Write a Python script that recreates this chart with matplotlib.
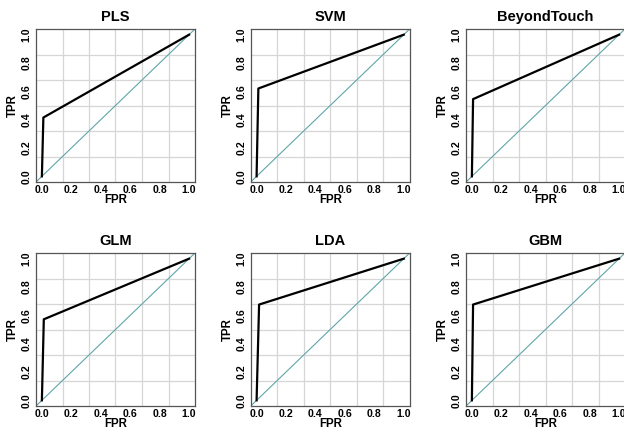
import matplotlib.pyplot as plt
import numpy as np

plt.rcParams['font.family'] = ['Liberation Sans', 'DejaVu Sans']
plt.rcParams['font.weight'] = 'bold'

# ROC curves: (0,0) -> knee -> (1,1)
models = ["PLS", "SVM", "BeyondTouch", "GLM", "LDA", "GBM"]
fpr = [[0.0, 0.01, 1.0],
       [0.0, 0.012, 1.0],
       [0.0, 0.008, 1.0],
       [0.0, 0.013, 1.0],
       [0.0, 0.017, 1.0],
       [0.0, 0.008, 1.0]]
tpr = [[0.0, 0.415, 1.0],
       [0.0, 0.62, 1.0],
       [0.0, 0.545, 1.0],
       [0.0, 0.572, 1.0],
       [0.0, 0.676, 1.0],
       [0.0, 0.676, 1.0]]
ticks = [0.0, 0.2, 0.4, 0.6, 0.8, 1.0]
tick_labels = ["0.0", "0.2", "0.4", "0.6", "0.8", "1.0"]

W, H = 624, 430
fig = plt.figure(figsize=(W / 100, H / 100), dpi=100)

# plot boxes in pixels (left, top, width, height)
lefts = [36, 250.7, 466]
tops = [29, 253]
bw, bh = 159, 153

lo, hi = -0.04, 1.04
for i, name in enumerate(models):
    r, c = divmod(i, 3)
    ax = fig.add_axes([lefts[c] / W, 1 - (tops[r] + bh) / H, bw / W, bh / H])
    ax.set_xlim(lo, hi)
    ax.set_ylim(lo, hi)

    # grid like R's grid(6, 6): equal cells across the plot region
    for g in np.linspace(lo, hi, 7)[1:-1]:
        ax.axvline(g, color="#d6d6d6", lw=0.9, zorder=0)
        ax.axhline(g, color="#d6d6d6", lw=0.9, zorder=0)

    ax.plot([lo, hi], [lo, hi], color="#5fa5a8", lw=0.8, zorder=1)
    ax.plot(fpr[i], tpr[i], color="black", lw=1.6, zorder=2)

    ax.set_xticks(ticks)
    ax.set_xticklabels(tick_labels)
    ax.set_yticks(ticks)
    ax.set_yticklabels(tick_labels, rotation=90, va="center")
    ax.tick_params(axis="x", length=0, pad=2.0, labelsize=7.6)
    ax.tick_params(axis="y", length=0, pad=3.0, labelsize=7.6)
    for s in ax.spines.values():
        s.set_color("#555555")
        s.set_linewidth(0.9)

    ax.text(0.5, 1.078, name, transform=ax.transAxes, ha="center", va="center",
            fontsize=10.5, fontweight="bold")
    ax.text(0.5, -0.118, "FPR", transform=ax.transAxes, ha="center", va="center",
            fontsize=8.3, fontweight="bold")
    ax.text(-0.145, 0.5, "TPR", transform=ax.transAxes, ha="center", va="center",
            rotation=90, fontsize=8.3, fontweight="bold")

fig.savefig("out.png", dpi=100)
